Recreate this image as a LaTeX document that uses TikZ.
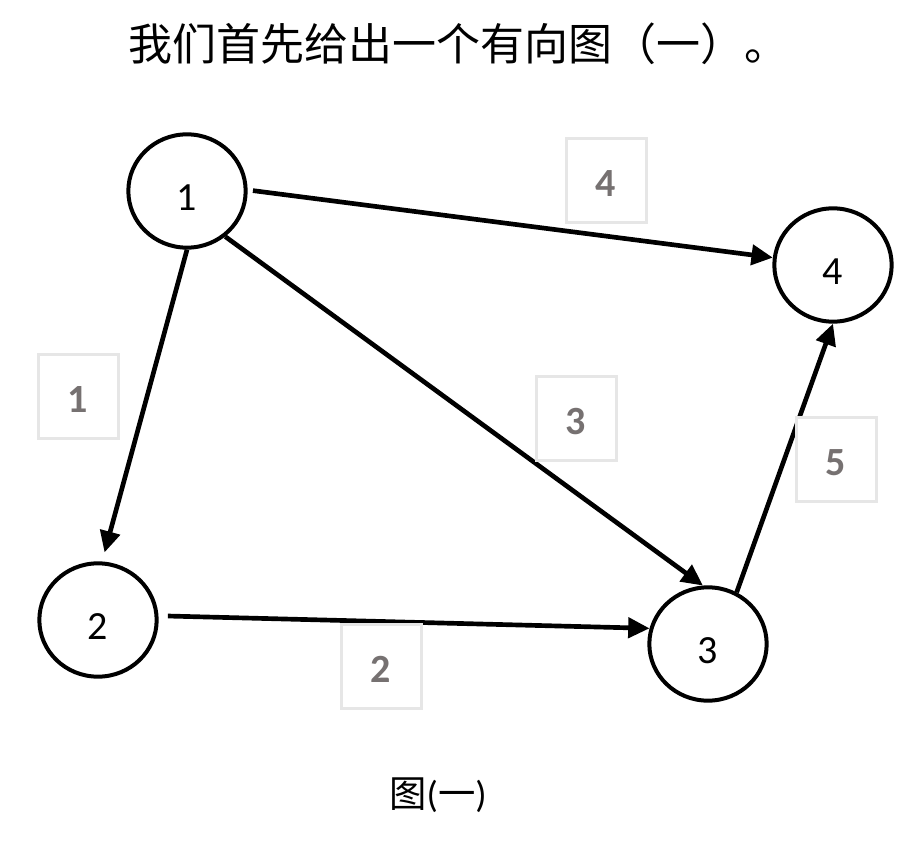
\documentclass[tikz,border=0pt]{standalone}
\usepackage{fontspec}
\setmainfont{Carlito}
\newfontfamily\cjk{Noto Sans CJK SC}
\usepackage{xcolor}
\usepackage{tikz}
\usetikzlibrary{shapes.geometric, arrows.meta}
\definecolor{wtgray}{HTML}{767171}
\definecolor{boxgray}{HTML}{E6E6E6}

\begin{document}
\begin{tikzpicture}[
				x=0.75pt, y=-0.75pt,
				vertex/.style={ellipse, draw=black, line width=3pt, minimum width=88pt, minimum height=85pt, inner sep=0pt, text height=29pt, text depth=0pt, font=\fontsize{30}{36}\selectfont},
				weight/.style={rectangle, draw=boxgray, fill=white, line width=2.25pt, minimum width=60pt, minimum height=63pt, inner sep=0pt, text height=25pt, text depth=0pt, text=wtgray, font=\fontsize{30}{36}\selectfont\bfseries},
				arrow/.style={-{Triangle[length=16pt, width=15pt]}, line width=3.5pt}
				]
				\useasboundingbox (0,0) rectangle (910,842);
				% Title
				\node (title) at (458,44) {\cjk\fontsize{33}{40}\selectfont 我们首先给出一个有向图（一）。};
				
				% Nodes
				\node (v1) [vertex] at (187,191) {1};
				\node (v2) [vertex] at (98,620) {2};
				\node (v3) [vertex] at (708,644) {3};
				\node (v4) [vertex] at (833,265) {4};
				
				% Arrows
				\draw [arrow, shorten <=4pt] (v1.1) -- (v4.173);
				\draw [arrow, shorten >=7pt] (v1.-90) -- (v2.86);
				\draw [arrow] (v1.-50) -- (v3.95);
				\draw [arrow, shorten <=7pt] (v2.4) -- (v3.165);
				\draw [arrow] (v3.61) -- (v4.-90);
				
				% Weights
				\node (w14) [weight] at (606,180) {4};
				\node (w12) [weight] at (78,396) {1};
				\node (w13) [weight] at (576,418) {3};
				\node (w34) [weight] at (836,459) {5};
				\node (w23) [weight] at (381,666) {2};
				
				% Caption
				\node (caption) at (438,795) {\fontsize{28}{34}\selectfont{\cjk 图}(\cjk 一\rm)};
			\end{tikzpicture}
\end{document}
